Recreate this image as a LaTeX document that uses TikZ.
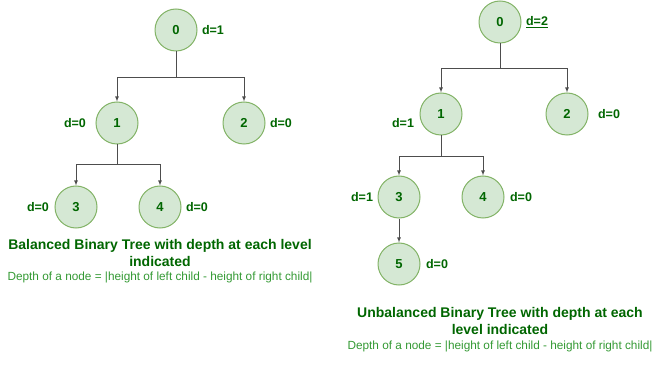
\documentclass[tikz,border=0pt]{standalone}
\usepackage{fontspec}
\setmainfont{Liberation Sans}
\usepackage{tikz}

\definecolor{nodefill}{HTML}{D5E8D4}
\definecolor{nodeline}{HTML}{82B366}
\definecolor{textgreen}{HTML}{006600}
\definecolor{notegreen}{HTML}{339933}
\definecolor{edgegray}{HTML}{4D4D4D}

\tikzset{
  treenode/.style={circle, draw=nodeline, fill=nodefill, line width=1pt,
    minimum size=42pt, inner sep=0pt, font=\fontsize{13}{15}\selectfont\bfseries,
    text=textgreen},
  depthlabel/.style={font=\fontsize{12.5}{15}\selectfont\bfseries, text=textgreen},
  titletext/.style={font=\fontsize{14}{17}\selectfont\bfseries, text=textgreen,
    align=center},
  notetext/.style={font=\fontsize{11.8}{14}\selectfont, text=notegreen},
  edge/.style={draw=edgegray, line width=0.8pt}
}

\begin{document}
\begin{tikzpicture}[>=latex, x=1pt, y=-1pt]
  \useasboundingbox (0,0) rectangle (660,371);

  % Balanced tree: nodes
  \foreach \n/\x/\y in {0/176/30, 1/117/123, 2/244/123, 3/76/207, 4/160/207} {
    \node[treenode] (l\n) at (\x,\y) {\n};
  }

  % Balanced tree: depth labels
  \node[depthlabel] (dl0) at (213,30)  {d=1};
  \node[depthlabel] (dl1) at (75,123)  {d=0};
  \node[depthlabel] (dl2) at (281,123) {d=0};
  \node[depthlabel] (dl3) at (38,207)  {d=0};
  \node[depthlabel] (dl4) at (197,207) {d=0};

  % Balanced tree: edges
  \coordinate (lb0) at (176,77);
  \coordinate (lb1) at (117,164);
  \draw[edge] (l0) -- (lb0);
  \draw[edge, ->] (lb0) -| (l1);
  \draw[edge, ->] (lb0) -| (l2);
  \draw[edge] (l1) -- (lb1);
  \draw[edge, ->] (lb1) -| (l3);
  \draw[edge, ->] (lb1) -| (l4);

  % Balanced tree: caption
  \node[titletext] (ltitle) at (160,253)
    {Balanced Binary Tree with depth at each level\\indicated};
  \node[notetext] (lnote) at (160,277)
    {Depth of a node = |height of left child - height of right child|};

  % Unbalanced tree: nodes
  \foreach \n/\x/\y in {0/500/22, 1/441/114, 2/567/114, 3/399/197, 4/483/197, 5/399/264} {
    \node[treenode] (r\n) at (\x,\y) {\n};
  }

  % Unbalanced tree: depth labels
  \node[depthlabel] (dr0) at (537,22)  {\underline{d=2}};
  \node[depthlabel] (dr1) at (403,123) {d=1};
  \node[depthlabel] (dr2) at (609,114) {d=0};
  \node[depthlabel] (dr3) at (362,197) {d=1};
  \node[depthlabel] (dr4) at (521,197) {d=0};
  \node[depthlabel] (dr5) at (437,264) {d=0};

  % Unbalanced tree: edges
  \coordinate (rb0) at (500,68);
  \coordinate (rb1) at (441,156);
  \draw[edge] (r0) -- (rb0);
  \draw[edge, ->] (rb0) -| (r1);
  \draw[edge, ->] (rb0) -| (r2);
  \draw[edge] (r1) -- (rb1);
  \draw[edge, ->] (rb1) -| (r3);
  \draw[edge, ->] (rb1) -| (r4);
  \draw[edge, ->] (r3) -- (r5);

  % Unbalanced tree: caption
  \node[titletext] (rtitle) at (500,321)
    {Unbalanced Binary Tree with depth at each\\level indicated};
  \node[notetext] (rnote) at (500,346)
    {Depth of a node = |height of left child - height of right child|};
\end{tikzpicture}
\end{document}
